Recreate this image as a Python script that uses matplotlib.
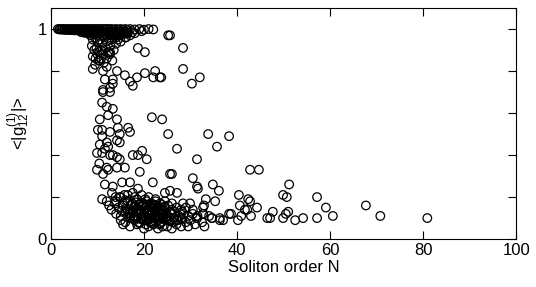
#!/usr/bin/env python3
"""
Coherence <|g12|> against soliton order N - scatter of open circles
"""

import matplotlib
matplotlib.use('Agg')
import matplotlib.pyplot as plt

plt.rcParams['font.family'] = ['Liberation Sans', 'DejaVu Sans']
plt.rcParams['mathtext.default'] = 'regular'

# top band, g12 ~ 1
band_N = [1.5, 2, 2.5, 3, 3.5, 4, 4.5, 5, 5.5, 6, 6.5, 7, 7.5, 8, 8.5, 9, 9.5, 10,
          10.5, 11, 11.5, 12, 12.5, 13, 13.5, 14, 14.5, 15, 15.5, 16, 16.5, 17, 18,
          19, 20, 21, 22, 3, 4, 5, 6, 7, 8, 9, 10, 11, 12, 13, 14, 15, 16, 17.5, 19.5,
          6.5, 7.5, 8.5, 9.5, 10.5, 11.5, 12.5, 13.5, 14.5,
          1.8, 2.3, 2.8, 3.3, 3.8, 4.3, 4.8, 5.3, 5.8, 6.3, 6.8, 7.3, 7.8, 8.3, 8.8,
          9.3, 9.8, 10.3, 10.8, 11.3, 11.8, 12.3, 12.8, 13.3, 13.8, 14.3, 14.8, 15.3,
          15.8, 16.3, 7.1, 8.1, 9.1, 10.1, 11.1, 12.1, 13.1, 14.1, 15.1, 16.1]
band_g = [1.0, 1.0, 1.0, 1.0, 1.0, 1.0, 1.0, 1.0, 1.0, 1.0, 1.0, 1.0, 1.0, 1.0, 1.0,
          1.0, 1.0, 1.0, 1.0, 1.0, 1.0, 1.0, 1.0, 1.0, 0.998, 1.0, 0.998, 1.0, 0.997,
          1.0, 0.996, 1.0, 0.998, 1.0, 0.997, 1.0, 0.998, 0.996, 0.995, 0.994, 0.993,
          0.992, 0.99, 0.99, 0.988, 0.99, 0.987, 0.99, 0.986, 0.99, 0.988, 0.985, 0.99,
          0.985, 0.982, 0.98, 0.978, 0.98, 0.975, 0.978, 0.98, 0.982,
          0.998, 0.997, 0.998, 0.996, 0.997, 0.995, 0.996, 0.994, 0.995, 0.993, 0.994,
          0.992, 0.993, 0.99, 0.992, 0.989, 0.991, 0.988, 0.99, 0.987, 0.989, 0.986,
          0.988, 0.985, 0.987, 0.984, 0.986, 0.983, 0.985, 0.984, 0.983, 0.98, 0.976,
          0.972, 0.97, 0.968, 0.97, 0.972, 0.975, 0.978]

# upper part of the falling branch
upper_N = [8.5, 9, 9.5, 10, 10.5, 11, 11.5, 12, 12.5, 13, 13.5, 14, 14.5, 15, 16,
           16.5, 17, 18, 8.8, 9.3, 9.8, 10.3, 10.8, 11.3, 11.8, 12.3, 12.8, 13.5, 14,
           15, 9, 9.6, 10.2, 10.8, 11.4, 12, 12.7, 13.2, 14.4, 16.1, 18.7, 20.2, 12.7,
           10.5, 9, 11.2, 14.2, 15.9, 18.5, 20.2, 22.4, 23.4, 11.6, 13.3, 17, 17.6,
           11.2, 12.7, 22, 23.7, 9.5, 10, 12]
upper_g = [0.97, 0.95, 0.96, 0.94, 0.95, 0.93, 0.96, 0.94, 0.97, 0.95, 0.97, 0.96,
           0.98, 0.97, 0.96, 0.98, 0.97, 0.98, 0.92, 0.9, 0.91, 0.89, 0.9, 0.88, 0.91,
           0.89, 0.92, 0.9, 0.93, 0.94, 0.87, 0.86, 0.85, 0.86, 0.84, 0.86, 0.88, 0.85,
           0.95, 0.96, 0.91, 0.89, 0.89, 0.85, 0.81, 0.8, 0.8, 0.78, 0.77, 0.79, 0.8,
           0.77, 0.76, 0.76, 0.75, 0.73, 0.71, 0.72, 0.77, 0.77, 0.83, 0.88, 0.82]

# middle part of the branch
middle_N = [11, 12, 13.3, 12.3, 10.5, 14.2, 21.7, 23.9, 13.3, 11.2, 12.7, 10.1, 11,
            12.7, 14.4, 16.6, 17, 14.8, 11, 10.5, 12, 12.3, 14.2, 14.8, 11.6, 11, 12.7,
            13.3, 14.2, 14.8, 9.9, 19.6, 17.6, 20.6, 18.7, 25.2, 27.1, 31.4, 9.9, 11.2,
            12.3, 14.2, 15.9, 19.1, 25.6, 21.9, 11.6, 13.3, 15.3, 17, 18.7, 13.1, 30.5,
            31.4, 31.6, 34.8, 36.1, 26, 12, 10.4]
middle_g = [0.65, 0.63, 0.62, 0.59, 0.57, 0.57, 0.58, 0.57, 0.74, 0.7, 0.7, 0.52,
            0.52, 0.51, 0.53, 0.53, 0.51, 0.5, 0.49, 0.45, 0.46, 0.44, 0.47, 0.46, 0.43,
            0.41, 0.4, 0.4, 0.39, 0.38, 0.41, 0.42, 0.4, 0.38, 0.4, 0.5, 0.43, 0.38,
            0.33, 0.31, 0.33, 0.34, 0.34, 0.32, 0.31, 0.27, 0.26, 0.25, 0.27, 0.27,
            0.24, 0.22, 0.29, 0.25, 0.24, 0.26, 0.23, 0.31, 0.34, 0.36]

# dense cluster at small g12
cluster_N = [11, 12, 13.8, 15, 16.5, 18, 19.5, 21, 22.5, 24.5, 25.6, 27.1,
             12.5, 14, 15.5, 16.5, 17.5, 18.5, 19.5, 20.5, 21.5, 22.5, 23.5, 24.5, 26,
             28.4, 29.9,
             13, 14.5, 15.5, 16.5, 17.2, 18, 18.8, 19.6, 20.4, 21.2, 22, 22.8, 23.6,
             24.4, 25.2, 26, 27, 28, 29, 30.5, 32.7,
             14, 15, 16, 17, 17.8, 18.6, 19.4, 20.2, 21, 21.8, 22.6, 23.4, 24.2, 25,
             25.8, 26.6, 27.5, 28.5, 29.5, 30.5, 31.5, 32.7, 34,
             15, 16, 17, 18, 19, 19.8, 20.6, 21.4, 22.2, 23, 23.8, 24.6, 25.4, 26.2,
             27, 28, 29, 30, 31.4, 32.5, 34.6, 36.3,
             15.5, 17, 18.5, 20, 21, 22, 23, 24, 25, 26, 27, 28, 29.5, 31, 33,
             17.5, 18.3, 19.1, 19.9, 20.7, 21.5, 22.3, 23.1, 23.9, 24.7, 18, 19, 20,
             21, 22, 23, 24, 25, 26, 17, 19.5, 21.5, 23.5, 25.5, 16, 18.2, 20.3, 22.4,
             24.2, 26.5, 28.2, 15.8, 17.6]
cluster_g = [0.19, 0.18, 0.17, 0.2, 0.21, 0.2, 0.21, 0.2, 0.19, 0.22, 0.23, 0.22,
             0.16, 0.18, 0.17, 0.18, 0.17, 0.19, 0.17, 0.18, 0.17, 0.18, 0.17, 0.18,
             0.17, 0.17, 0.17,
             0.14, 0.15, 0.16, 0.14, 0.16, 0.15, 0.14, 0.16, 0.15, 0.14, 0.16, 0.15,
             0.14, 0.15, 0.16, 0.14, 0.15, 0.14, 0.15, 0.14, 0.15,
             0.12, 0.11, 0.13, 0.12, 0.11, 0.13, 0.12, 0.11, 0.13, 0.12, 0.11, 0.13,
             0.12, 0.11, 0.12, 0.13, 0.11, 0.12, 0.11, 0.12, 0.11, 0.12, 0.11,
             0.09, 0.08, 0.1, 0.09, 0.08, 0.1, 0.09, 0.08, 0.1, 0.09, 0.08, 0.1, 0.09,
             0.08, 0.09, 0.1, 0.08, 0.09, 0.1, 0.08, 0.1, 0.09,
             0.07, 0.06, 0.07, 0.05, 0.06, 0.07, 0.05, 0.06, 0.06, 0.05, 0.07, 0.06,
             0.06, 0.07, 0.06,
             0.13, 0.1, 0.14, 0.11, 0.12, 0.1, 0.13, 0.11, 0.1, 0.12, 0.155, 0.135,
             0.165, 0.125, 0.145, 0.105, 0.135, 0.095, 0.125, 0.105, 0.095, 0.085,
             0.075, 0.085, 0.185, 0.175, 0.19, 0.16, 0.14, 0.1, 0.13, 0.21, 0.22]

# extra points in the darkest part of the cluster
core_N = [17.3, 18.1, 18.9, 19.7, 20.5, 21.3, 22.1, 22.9, 23.7, 24.5, 16.8, 17.6,
          18.4, 19.2, 20, 20.8, 21.6, 22.4, 23.2, 24, 24.8, 25.6, 17, 17.8, 18.6,
          19.4, 20.2, 21, 21.8, 22.6, 23.4, 24.2, 25, 26.4, 27.3, 28.1, 19, 20.4,
          21.9, 23.3, 16.2, 14.8, 13.9, 15.2]
core_g = [0.165, 0.155, 0.165, 0.155, 0.165, 0.155, 0.165, 0.155, 0.165, 0.155,
          0.125, 0.135, 0.125, 0.135, 0.125, 0.135, 0.125, 0.135, 0.125, 0.135, 0.125,
          0.13, 0.105, 0.095, 0.105, 0.095, 0.105, 0.095, 0.105, 0.095, 0.105, 0.095,
          0.105, 0.1, 0.09, 0.095, 0.075, 0.07, 0.075, 0.07, 0.145, 0.2, 0.2, 0.135]

# scattered points to the right
scatter_N = [25.2, 28.4, 28.4, 32, 30.3, 25.6, 33.8, 38.3, 35.7, 42.8, 44.7, 51.2,
             49.9, 50.7, 57.2, 40.4, 42.4, 42.8, 44.3, 33.3, 35.3, 32.9, 59.1, 60.6,
             47.7, 46.5, 49.9, 51, 50.5, 52.5, 54.2, 57.2, 42.2, 40.6, 40.9, 40.2, 43,
             38.7, 37, 38.3, 67.7, 70.8, 80.9, 41.7, 36.3, 34.6, 32.7, 31.4, 47.1]
scatter_g = [0.97, 0.91, 0.81, 0.77, 0.74, 0.97, 0.5, 0.49, 0.44, 0.33, 0.33, 0.26,
             0.21, 0.2, 0.2, 0.21, 0.19, 0.18, 0.15, 0.19, 0.18, 0.16, 0.15, 0.11, 0.13,
             0.1, 0.1, 0.13, 0.12, 0.09, 0.1, 0.1, 0.14, 0.16, 0.11, 0.09, 0.11, 0.12,
             0.09, 0.12, 0.16, 0.11, 0.1, 0.14, 0.1, 0.1, 0.12, 0.1, 0.1]

fig = plt.figure(figsize=(5.36, 2.87), dpi=100)
ax = fig.add_axes([0.095, 0.167, 0.868, 0.805])

for N, g in [(band_N, band_g), (upper_N, upper_g), (middle_N, middle_g),
             (cluster_N, cluster_g), (core_N, core_g), (scatter_N, scatter_g)]:
    ax.scatter(N, g, s=38, facecolors='none', edgecolors='black', linewidths=0.9,
               clip_on=False)

ax.set_xlim(0, 100)
ax.set_ylim(0, 1.1)
ax.set_xticks([0, 20, 40, 60, 80, 100])
ax.set_yticks([0, 0.2, 0.4, 0.6, 0.8, 1.0])
ax.set_yticklabels(['0', '', '', '', '', '1'])
ax.tick_params(direction='in', length=6, width=0.8, top=True, right=True,
               labelsize=12, pad=3, colors='black')
for sp in ax.spines.values():
    sp.set_linewidth(0.8)

ax.set_xlabel('Soliton order N', fontsize=12, labelpad=1)
ax.set_ylabel(r'<|g$_{12}^{(1)}$|>', fontsize=12, labelpad=4)

plt.savefig('out.png', dpi=100, facecolor='white')
plt.close()
